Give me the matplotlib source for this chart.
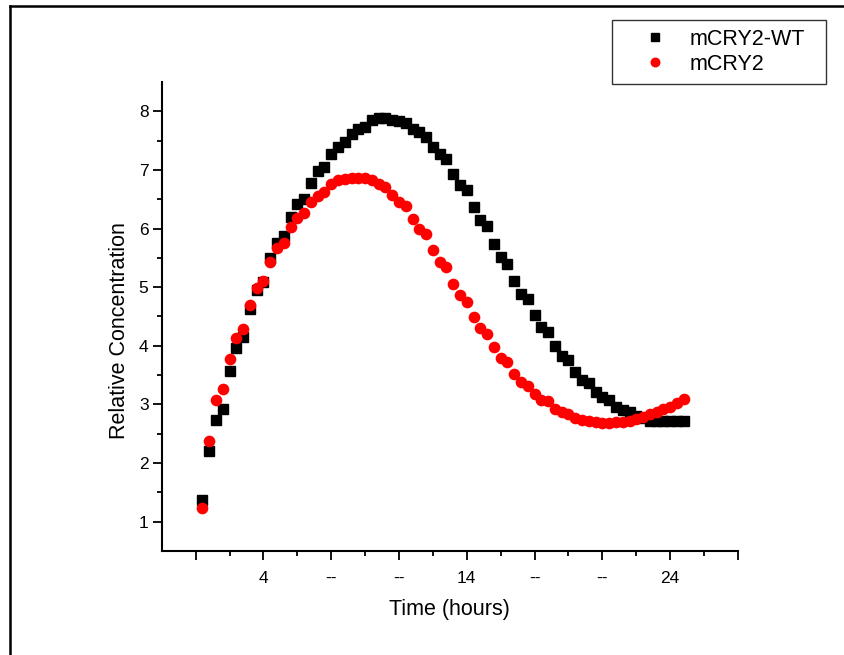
import numpy as np
import matplotlib
matplotlib.use("Agg")
import matplotlib.pyplot as plt
from matplotlib.lines import Line2D

plt.rcParams['font.family'] = ['Liberation Sans', 'DejaVu Sans']

# Sampling: one reading every 20 minutes starting at hour 1
t_start = 1.0
t_step = 1.0 / 3.0

wt_values = [
    1.37, 2.20, 2.74, 2.93, 3.57, 3.97, 4.15, 4.63, 4.96, 5.09,
    5.50, 5.76, 5.88, 6.20, 6.42, 6.51, 6.78, 6.98, 7.05, 7.28,
    7.39, 7.48, 7.62, 7.70, 7.74, 7.85, 7.88, 7.88, 7.86, 7.83,
    7.80, 7.70, 7.64, 7.57, 7.39, 7.28, 7.18, 6.93, 6.74, 6.66,
    6.37, 6.14, 6.05, 5.74, 5.51, 5.40, 5.10, 4.89, 4.79, 4.52,
    4.32, 4.23, 4.00, 3.82, 3.75, 3.55, 3.42, 3.37, 3.22, 3.12,
    3.07, 2.96, 2.90, 2.87, 2.81, 2.77, 2.72, 2.71, 2.71, 2.71,
    2.71, 2.71,
]

mut_values = [
    1.23, 2.38, 3.07, 3.27, 3.78, 4.14, 4.28, 4.70, 4.98, 5.10,
    5.43, 5.67, 5.76, 6.02, 6.18, 6.26, 6.45, 6.55, 6.62, 6.76,
    6.82, 6.85, 6.87, 6.87, 6.87, 6.82, 6.76, 6.71, 6.57, 6.45,
    6.38, 6.17, 6.00, 5.91, 5.64, 5.43, 5.35, 5.06, 4.86, 4.75,
    4.49, 4.30, 4.20, 3.98, 3.80, 3.72, 3.52, 3.39, 3.32, 3.18,
    3.08, 3.05, 2.92, 2.87, 2.83, 2.77, 2.74, 2.71, 2.70, 2.68,
    2.68, 2.70, 2.70, 2.71, 2.75, 2.79, 2.83, 2.87, 2.92, 2.95,
    3.02, 3.10,
]

x_major = [2/3, 4, 22/3, 32/3, 14, 52/3, 62/3, 24, 82/3]
x_major_labels = ["", "4", "--", "--", "14", "--", "--", "24", ""]
x_minor = [7/3, 17/3, 9, 37/3, 47/3, 19, 67/3, 77/3]
y_major = [1, 2, 3, 4, 5, 6, 7, 8]
y_minor = [1.5, 2.5, 3.5, 4.5, 5.5, 6.5, 7.5]

hours = t_start + t_step * np.arange(len(wt_values))

fig = plt.figure(figsize=(8.44, 6.55), dpi=100)
ax = fig.add_axes([0.1916, 0.1588, 0.6828, 0.716])

ax.plot(hours, wt_values, linestyle='none', marker='s', markersize=7.0,
        color='black', label='mCRY2-WT')
ax.plot(hours, mut_values, linestyle='none', marker='o', markersize=8.4,
        color='#ff0000', markeredgewidth=0, label='mCRY2')

ax.set_xlim(-1, 82/3)
ax.set_ylim(0.5, 8.5)

ax.set_xticks(x_major)
ax.set_xticklabels(x_major_labels)
ax.set_xticks(x_minor, minor=True)
ax.set_yticks(y_major)
ax.set_yticks(y_minor, minor=True)

for side in ('top', 'right'):
    ax.spines[side].set_visible(False)
for side in ('left', 'bottom'):
    ax.spines[side].set_linewidth(1.5)

ax.tick_params(which='major', direction='out', length=6.5, width=1.3,
               labelsize=12.5)
ax.tick_params(which='minor', direction='out', length=3.5, width=1.3)
ax.tick_params(axis='x', which='major', pad=8)
ax.tick_params(axis='y', which='major', pad=3)

ax.set_xlabel('Time (hours)', fontsize=15.5, labelpad=9)
ax.set_ylabel('Relative Concentration', fontsize=15.5)
ax.yaxis.set_label_coords(-0.055, 0.471)

leg = fig.legend(loc='upper left', bbox_to_anchor=(0.725, 0.97, 0.254, 0.0),
                 mode='expand', fontsize=15.5, frameon=True, fancybox=False,
                 edgecolor='#333333', framealpha=1, borderpad=0.42,
                 handletextpad=0.0, labelspacing=0.2, borderaxespad=0,
                 handlelength=3.2, markerscale=0.85)
leg.get_frame().set_linewidth(1.0)

# Frame lines along the left and top edges of the figure
fig.add_artist(Line2D([0.0124, 0.0124], [0.0, 0.9916], color='black',
                      linewidth=1.8, transform=fig.transFigure))
fig.add_artist(Line2D([0.0124, 1.0], [0.9916, 0.9916], color='black',
                      linewidth=1.8, transform=fig.transFigure))

fig.savefig('out.png', dpi=100)
